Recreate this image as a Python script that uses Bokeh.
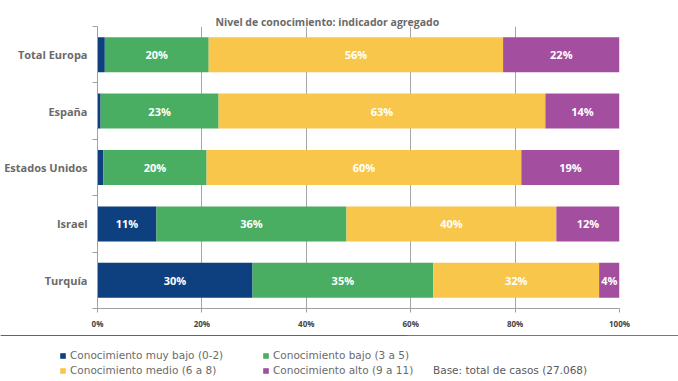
from bokeh.plotting import figure
from bokeh.layouts import column
from bokeh.models import Range1d, FixedTicker, Legend, LegendItem, ColumnDataSource
from bokeh.embed import file_html
from bokeh.resources import INLINE
from bokeh.core.properties import value

# ---------------- data ----------------
categories = ["Total Europa", "España", "Estados Unidos", "Israel", "Turquía"]
muy_bajo = [1.4, 0.6, 1.1, 11.3, 29.7]
bajo = [19.9, 22.6, 19.8, 36.4, 34.6]
medio = [56.4, 62.6, 60.3, 40.2, 31.8]
alto = [22.3, 14.2, 18.8, 12.1, 3.9]
lbl_muy_bajo = ["", "", "", "11%", "30%"]
lbl_bajo = ["20%", "23%", "20%", "36%", "35%"]
lbl_medio = ["56%", "63%", "60%", "40%", "32%"]
lbl_alto = ["22%", "14%", "19%", "12%", "4%"]
series_names = ["Conocimiento muy bajo (0-2)", "Conocimiento bajo (3 a 5)",
                "Conocimiento medio (6 a 8)", "Conocimiento alto (9 a 11)"]
x_ticks = [0, 20, 40, 60, 80, 100]
x_tick_labels = ["0%", "20%", "40%", "60%", "80%", "100%"]
title_text = "Nivel de conocimiento: indicador agregado"
base_text = "Base: total de casos (27.068)"

colors = ["#0e3f7e", "#4aae62", "#f7c64b", "#a44e9f"]
FONT = "Open Sans"
LFONT = "DejaVu Sans"
TXT = "#6a6a6a"

n = len(categories)
ypos = [n - i - 0.5 for i in range(n)]
keys = ["muy_bajo", "bajo", "medio", "alto"]
series = [muy_bajo, bajo, medio, alto]
labels = [lbl_muy_bajo, lbl_bajo, lbl_medio, lbl_alto]

data = {"y": ypos, "cat": categories}
for k, s in zip(keys, series):
    data[k] = s
src = ColumnDataSource(data)

p = figure(width=678, height=335, x_range=Range1d(0, 100), y_range=Range1d(0, n),
           output_backend="svg", toolbar_location=None,
           min_border_left=97, min_border_right=59, min_border_top=26, min_border_bottom=27)
p.outline_line_color = None
p.background_fill_color = "white"
p.border_fill_color = "white"

rends = p.hbar_stack(keys, y="y", height=0.62, color=colors, source=src, line_color=None)

# data labels
for s_idx, (s, lab) in enumerate(zip(series, labels)):
    left = [sum(series[j][i] for j in range(s_idx)) for i in range(n)]
    mids = [l + v / 2 for l, v in zip(left, s)]
    p.text(x=mids, y=ypos, text=lab, text_color="white", text_align="center",
           text_baseline="middle", text_font=value(FONT), text_font_style="bold",
           text_font_size="11px")

# grid
p.ygrid.visible = False
p.xgrid.ticker = FixedTicker(ticks=x_ticks)
p.xgrid.grid_line_color = "#a6a6a6"
p.xgrid.grid_line_width = 1

# x axis
xa = p.xaxis[0]
xa.ticker = FixedTicker(ticks=x_ticks)
xa.major_label_overrides = {t: l for t, l in zip(x_ticks, x_tick_labels)}
xa.axis_line_color = "#a0a0a0"
xa.major_tick_line_color = "#a0a0a0"
xa.major_tick_in = 0
xa.major_tick_out = 4
xa.minor_tick_line_color = None
xa.major_label_text_font = FONT
xa.major_label_text_font_style = "bold"
xa.major_label_text_font_size = "8px"
xa.major_label_text_color = "#444444"
xa.major_label_standoff = 5

# y axis
ya = p.yaxis[0]
ya.ticker = FixedTicker(ticks=ypos, minor_ticks=[float(i) for i in range(n + 1)])
ya.major_label_overrides = {y: c for y, c in zip(ypos, categories)}
ya.axis_line_color = "#a0a0a0"
ya.major_tick_line_color = None
ya.major_tick_in = 0
ya.major_tick_out = 0
ya.minor_tick_line_color = "#a0a0a0"
ya.minor_tick_in = 0
ya.minor_tick_out = 5
ya.major_label_text_font = FONT
ya.major_label_text_font_style = "bold"
ya.major_label_text_font_size = "11px"
ya.major_label_text_color = TXT
ya.major_label_standoff = 5

# title
p.title.text = title_text
p.title.align = "left"
p.title.offset = 118
p.title.standoff = -5
p.title.text_font = FONT
p.title.text_font_style = "bold"
p.title.text_font_size = "10.5px"
p.title.text_color = TXT

# ---------------- legend figure ----------------
lf = figure(width=678, height=45, x_range=Range1d(0, 1), y_range=Range1d(-2, -1),
            output_backend="svg", toolbar_location=None,
            x_axis_type=None, y_axis_type=None,
            min_border_left=0, min_border_right=0, min_border_top=0, min_border_bottom=0)
lf.outline_line_color = None
lf.grid.visible = False
for fig in (p, lf):
    try:
        fig.frame_align = False
    except Exception:
        pass

# same stacked series, out of view: used only as legend glyphs
proxies = lf.hbar_stack(keys, y="y", height=0.62, color=colors, source=src, line_color=None)
note = lf.scatter(x="muy_bajo", y="y", source=src, alpha=0, size=1)

def make_legend(items, loc, gw=7, so=4, color=TXT):
    return Legend(items=items, location=loc, orientation="vertical",
                  background_fill_alpha=0, border_line_color=None,
                  padding=0, margin=0, spacing=3,
                  glyph_width=gw, glyph_height=7, label_standoff=so,
                  label_text_font=LFONT, label_text_font_size="10.5px",
                  label_text_color=color, label_height=12)

lg1 = make_legend([LegendItem(label=series_names[0], renderers=[proxies[0]]),
                   LegendItem(label=series_names[2], renderers=[proxies[2]])], (59, 4))
lg2 = make_legend([LegendItem(label=series_names[1], renderers=[proxies[1]]),
                   LegendItem(label=series_names[3], renderers=[proxies[3]])], (262, 4))
lg3 = make_legend([LegendItem(label=base_text, renderers=[note])], (433, 4),
                  gw=0, so=0, color="#5a5a5a")
for lg in (lg1, lg2, lg3):
    lf.add_layout(lg)

open("out.html", "w").write(file_html(column(p, lf, spacing=0), INLINE))
